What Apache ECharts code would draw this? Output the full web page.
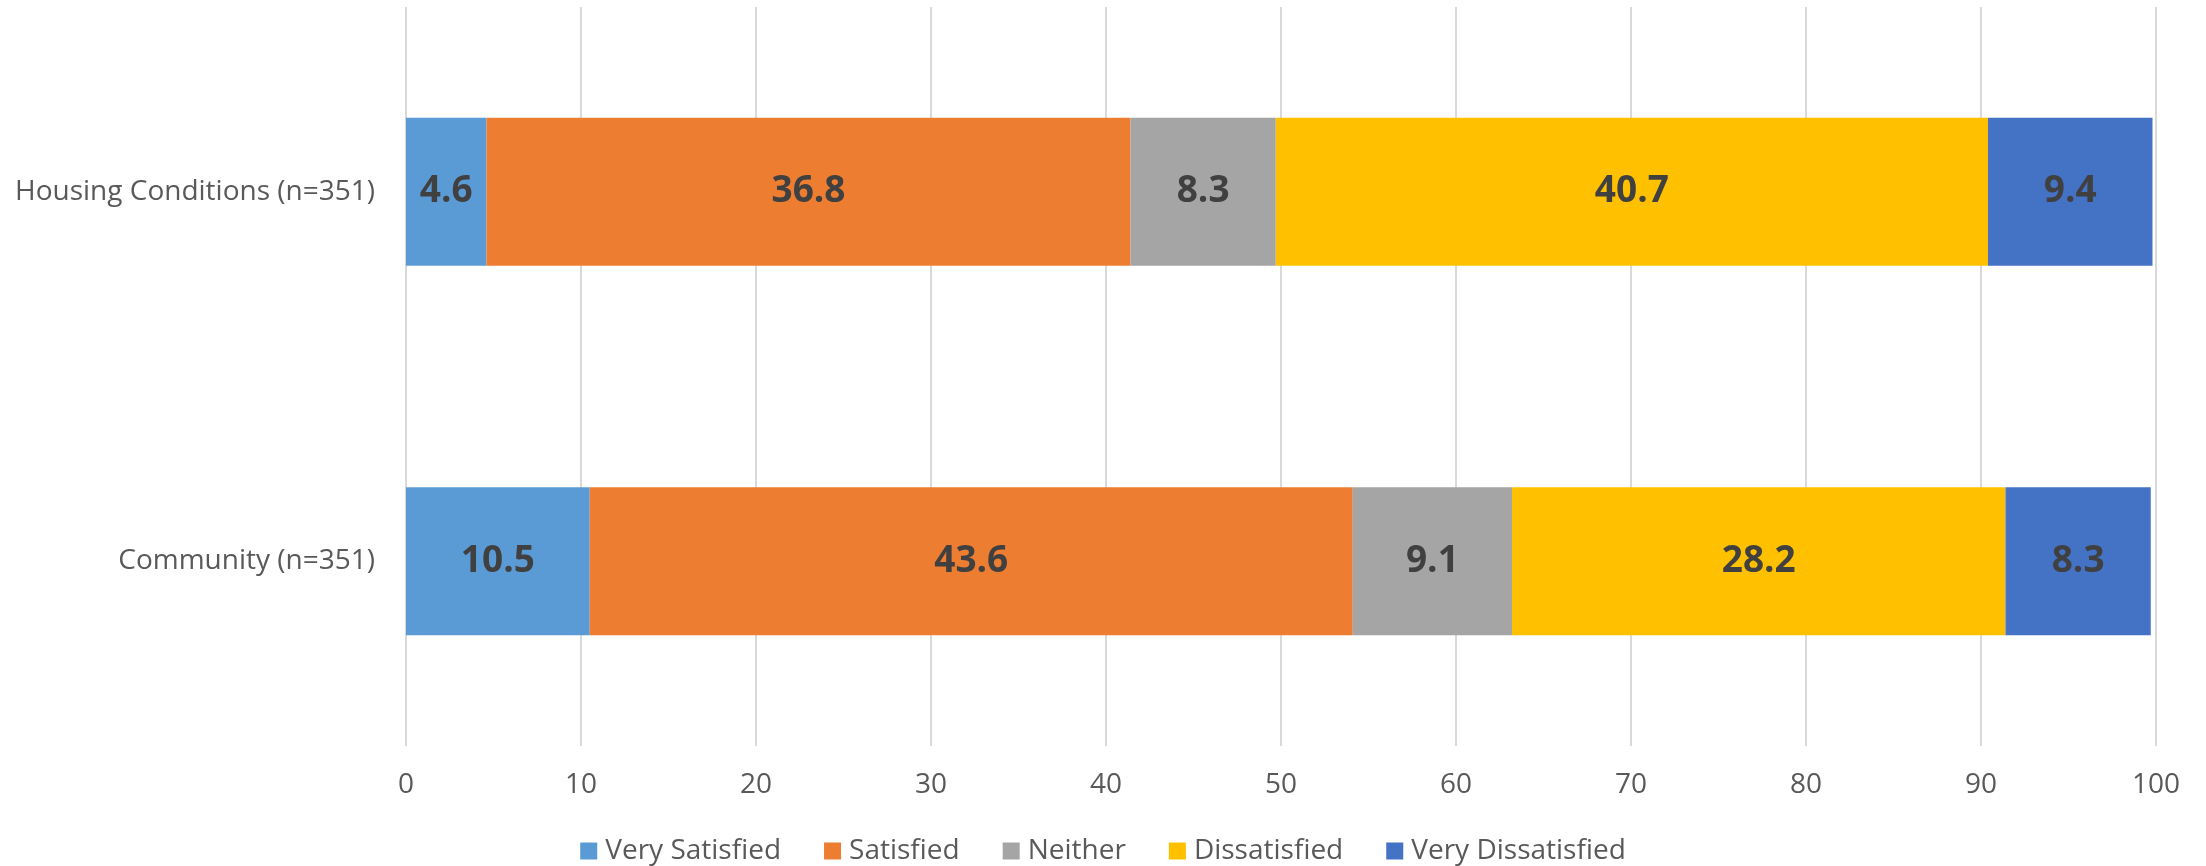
<!DOCTYPE html>
<html>
<head>
<meta charset="utf-8">
<script src="https://cdn.jsdelivr.net/npm/echarts@6/dist/echarts.min.js"></script>
<style>
  html, body { margin: 0; padding: 0; background: #fff; }
  #chart { width: 2206px; height: 866px; }
</style>
</head>
<body>
<div id="chart"></div>
<script>
// categories, bottom to top as echarts draws them
const categories = ['Community (n=351)', 'Housing Conditions (n=351)']
const seriesNames = ['Very Satisfied', 'Satisfied', 'Neither', 'Dissatisfied', 'Very Dissatisfied']
const verySatisfied = [10.5, 4.6]
const satisfied = [43.6, 36.8]
const neither = [9.1, 8.3]
const dissatisfied = [28.2, 40.7]
const veryDissatisfied = [8.3, 9.4]
const xTicks = [0, 10, 20, 30, 40, 50, 60, 70, 80, 90, 100]

const colors = ['#5B9BD5', '#ED7D31', '#A5A5A5', '#FFC000', '#4472C4']
const values = [verySatisfied, satisfied, neither, dissatisfied, veryDissatisfied]

const font = '"Open Sans", sans-serif'

let series = []
seriesNames.forEach((name, i) => {
    series.push({
        name: name,
        type: 'bar',
        stack: 'total',
        barCategoryGap: '60%',
        label: {
            show: true,
            position: 'inside',
            color: '#404040',
            fontFamily: font,
            fontWeight: 'bold',
            fontSize: 37,
            formatter: p => p.value.toFixed(1)
        },
        data: values[i]
    })
})

const chart = echarts.init(document.getElementById('chart'))
chart.setOption({
    animation: false,
    color: colors,
    textStyle: { fontFamily: font },
    grid: { left: 406, right: 50, top: 7, bottom: 120, containLabel: false },
    legend: {
        data: seriesNames,
        left: 'center',
        top: 832,
        icon: 'rect',
        itemWidth: 17,
        itemHeight: 17,
        itemGap: 43,
        textStyle: { fontSize: 28, color: '#595959', fontFamily: font, padding: [0, 0, 0, 3] }
    },
    xAxis: {
        type: 'value',
        min: xTicks[0],
        max: xTicks[xTicks.length - 1],
        interval: 10,
        axisLine: { show: false },
        axisTick: { show: false },
        splitLine: { lineStyle: { color: '#D9D9D9', width: 2 } },
        axisLabel: { fontSize: 28, color: '#595959', margin: 25, fontFamily: font }
    },
    yAxis: {
        type: 'category',
        data: categories,
        axisLine: { show: false },
        axisTick: { show: false },
        axisLabel: { fontSize: 28, color: '#595959', margin: 31, fontFamily: font }
    },
    series: series
})
</script>
</body>
</html>
